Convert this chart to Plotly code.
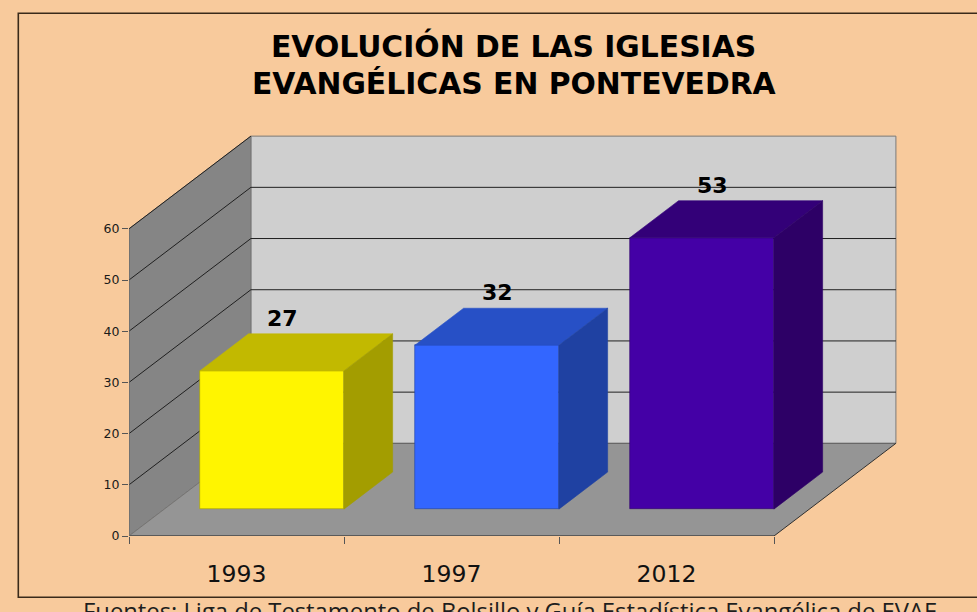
import plotly.graph_objects as go

# ---------------- data ----------------
categories = ["1993", "1997", "2012"]
values = [27, 32, 53]
front_colors = ["#FFF500", "#3366FF", "#4400A6"]
top_colors = ["#C2B900", "#2750C6", "#330078"]
side_colors = ["#A39D00", "#1F41A2", "#2D0066"]
y_ticks = [0, 10, 20, 30, 40, 50, 60]
title_lines = ["EVOLUCIÓN DE LAS IGLESIAS", "EVANGÉLICAS EN PONTEVEDRA"]
source_text = "Fuentes: Liga de Testamento de Bolsillo y Guía Estadística Evangélica de EVAE"

# ---------------- 3D projection parameters ----------------
DX = 0.567     # depth offset in category units
DY = 18.1      # depth offset in value units
FRONT = 0.29   # bar front position (fraction of depth)
DEPTH = 0.40   # bar depth (fraction of depth)
WIDTH = 0.67   # bar width in category units
YMAX = y_ticks[-1]
n = len(categories)
x0, x1 = -0.5, n - 0.5

BG = "#F8CA9C"
FONT = "DejaVu Sans"

fig = go.Figure()

# front faces via the bar trace
fig.add_trace(go.Bar(
    x=list(range(n)), y=values, base=FRONT * DY, width=WIDTH,
    offset=-WIDTH / 2 + FRONT * DX,
    marker=dict(color=front_colors, line=dict(width=0.6, color=side_colors)),
    hoverinfo="skip", showlegend=False,
))

# top and side faces
for i, v in enumerate(values):
    xl = i - WIDTH / 2 + FRONT * DX
    xr = xl + WIDTH
    yb = FRONT * DY
    yt = yb + v
    ddx, ddy = DEPTH * DX, DEPTH * DY
    fig.add_trace(go.Scatter(
        x=[xl, xr, xr + ddx, xl + ddx, xl],
        y=[yt, yt, yt + ddy, yt + ddy, yt],
        mode="lines", fill="toself", fillcolor=top_colors[i],
        line=dict(color=top_colors[i], width=0.6),
        hoverinfo="skip", showlegend=False,
    ))
    fig.add_trace(go.Scatter(
        x=[xr, xr + ddx, xr + ddx, xr, xr],
        y=[yb, yb + ddy, yt + ddy, yt, yb],
        mode="lines", fill="toself", fillcolor=side_colors[i],
        line=dict(color=side_colors[i], width=0.6),
        hoverinfo="skip", showlegend=False,
    ))

# ---------------- walls, floor, gridlines (shapes below traces) ----------------
shapes = []
# back wall
shapes.append(dict(type="rect", xref="x", yref="y", layer="below",
                   x0=x0 + DX, x1=x1 + DX, y0=DY, y1=YMAX + DY,
                   fillcolor="#CFCFCF", line=dict(color="#7a7a7a", width=1)))
# left wall
shapes.append(dict(type="path", xref="x", yref="y", layer="below",
                   path=f"M {x0},0 L {x0},{YMAX} L {x0+DX},{YMAX+DY} L {x0+DX},{DY} Z",
                   fillcolor="#858585", line=dict(color="#6e6e6e", width=0.8)))
# floor
shapes.append(dict(type="path", xref="x", yref="y", layer="below",
                   path=f"M {x0},0 L {x0+DX},{DY} L {x1+DX},{DY} L {x1},0 Z",
                   fillcolor="#959595", line=dict(width=0)))
# back wall bottom edge
shapes.append(dict(type="line", xref="x", yref="y", layer="below",
                   x0=x0 + DX, x1=x1 + DX, y0=DY, y1=DY,
                   line=dict(color="#606060", width=1)))
# floor / left wall seam
shapes.append(dict(type="line", xref="x", yref="y", layer="below",
                   x0=x0, x1=x0 + DX, y0=0, y1=DY,
                   line=dict(color="#707070", width=0.8)))
# floor right edge
shapes.append(dict(type="line", xref="x", yref="y", layer="below",
                   x0=x1, x1=x1 + DX, y0=0, y1=DY,
                   line=dict(color="#303030", width=1)))
# gridlines
for t in y_ticks[1:-1]:
    shapes.append(dict(type="line", xref="x", yref="y", layer="below",
                       x0=x0 + DX, x1=x1 + DX, y0=t + DY, y1=t + DY,
                       line=dict(color="#202020", width=1)))
for t in y_ticks[1:]:
    shapes.append(dict(type="line", xref="x", yref="y", layer="below",
                       x0=x0, x1=x0 + DX, y0=t, y1=t + DY,
                       line=dict(color="#202020", width=1)))
# front axis lines
shapes.append(dict(type="line", xref="x", yref="y", layer="below",
                   x0=x0, x1=x1, y0=0, y1=0,
                   line=dict(color="#5a5a5a", width=2)))
shapes.append(dict(type="line", xref="x", yref="y", layer="below",
                   x0=x0, x1=x0, y0=0, y1=YMAX,
                   line=dict(color="#6a6a6a", width=1.2)))

# outer frame
L, R, T, B = 129, 914, 130, 536
def px_x(p):
    return (p - L) / (R - L)
def px_y(p):
    return (B - p) / (B - T)
shapes.append(dict(type="rect", xref="paper", yref="paper",
                   x0=px_x(18.3), x1=px_x(990), y0=px_y(597.3), y1=px_y(13.3),
                   line=dict(color="#3a2a1a", width=1.6), fillcolor="rgba(0,0,0,0)"))

# ---------------- annotations ----------------
annotations = []
for k, (line, ypx) in enumerate(zip(title_lines, [46.3, 83.0])):
    annotations.append(dict(text=line, xref="paper", yref="paper",
                            x=px_x(513.5), y=px_y(ypx), xanchor="center", yanchor="middle",
                            showarrow=False,
                            font=dict(family=FONT, size=29.8, color="#000000", weight="bold")))
for i, v in enumerate(values):
    annotations.append(dict(text=str(v), xref="x", yref="y",
                            x=i + FRONT * DX + 0.05,
                            y=v + (FRONT + DEPTH) * DY + 3.03,
                            xanchor="center", yanchor="middle", showarrow=False,
                            font=dict(family=FONT, size=22, color="#000000", weight="bold")))
annotations.append(dict(text=source_text, xref="paper", yref="paper",
                        x=px_x(509.5), y=px_y(592.5), xanchor="center", yanchor="top",
                        showarrow=False,
                        font=dict(family="Open Sans", size=23.8, color="#1e1e1e")))

fig.update_layout(
    width=977, height=612,
    margin=dict(l=L, r=977 - R, t=T, b=612 - B, pad=0),
    paper_bgcolor=BG, plot_bgcolor=BG,
    shapes=shapes, annotations=annotations,
    showlegend=False, bargap=0,
    xaxis=dict(range=[x0, x0 + (R - L) / 215.0], tickmode="array",
               tickvals=list(range(n)), ticktext=categories, ticks="",
               showgrid=False, zeroline=False, showline=False,
               tickfont=dict(family=FONT, size=23.5, color="#111111"),
               ticklabelstandoff=21,
               minor=dict(tickmode="array", tickvals=[x0 + k for k in range(n + 1)],
                          ticks="outside", ticklen=7, tickcolor="#555555", tickwidth=1.2,
                          showgrid=False),
               fixedrange=True),
    yaxis=dict(range=[0, (B - T) / 5.12], tickmode="array", tickvals=y_ticks,
               ticks="outside", ticklen=6, tickcolor="#555555", tickwidth=1.2,
               showgrid=False, zeroline=False, showline=False,
               tickfont=dict(family=FONT, size=12.5, color="#1a1a1a"),
               fixedrange=True),
)

fig.write_html("out.html", config={"displayModeBar": False},
               post_script="document.body.style.margin='0';")
